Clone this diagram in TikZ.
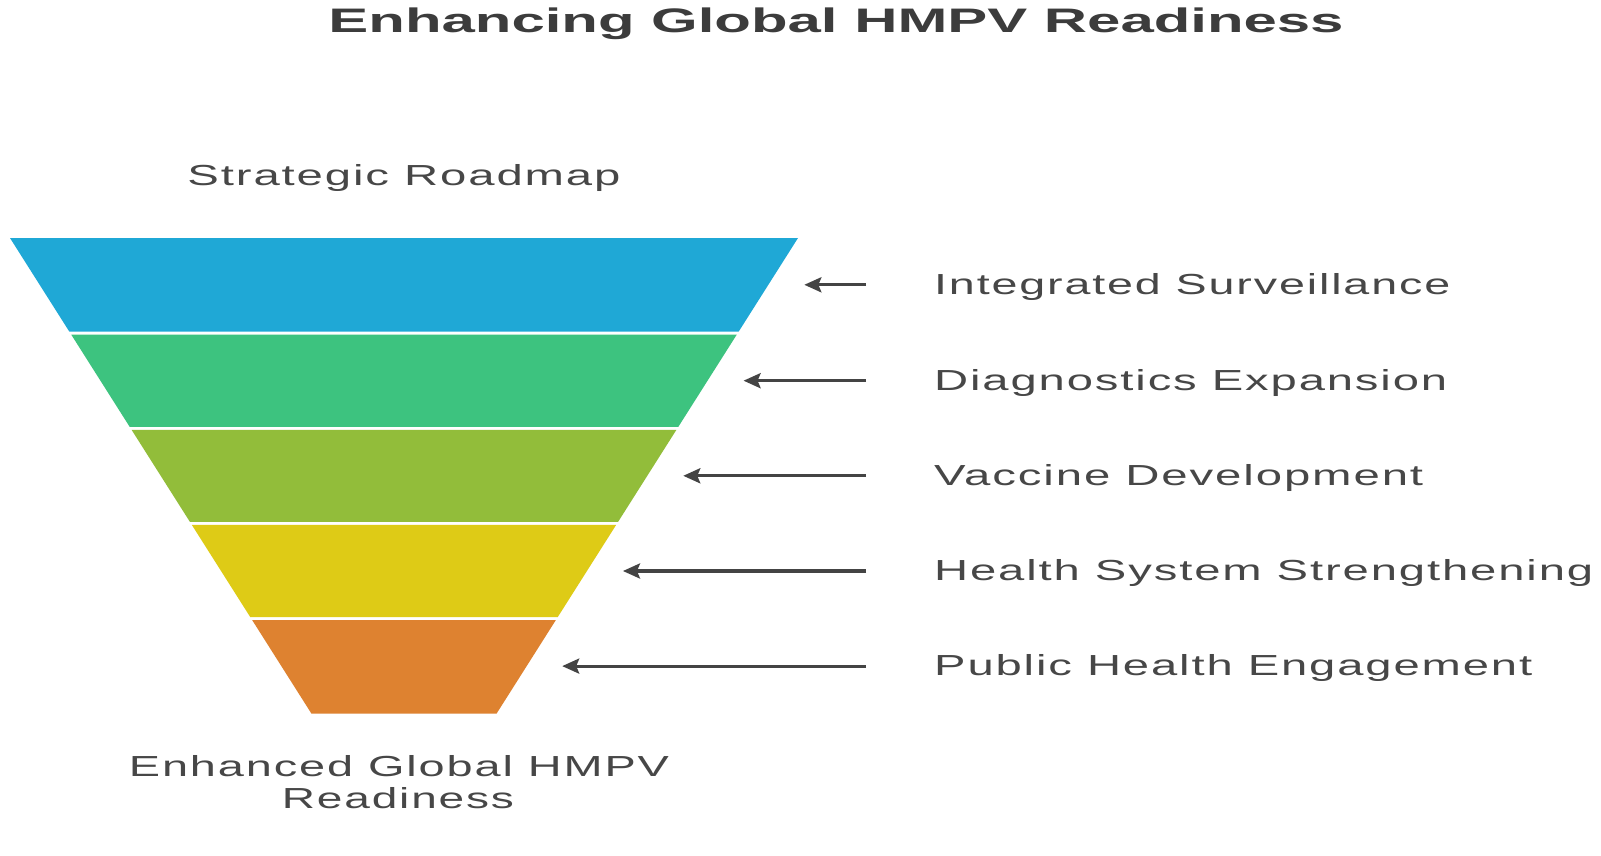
\documentclass[tikz,border=0pt]{standalone}
\usepackage{fontspec}
\setmainfont{Liberation Sans}
\newfontfamily\labfont[LetterSpace=4]{Liberation Sans}
\usetikzlibrary{arrows.meta}
\definecolor{txt}{HTML}{474747}
\definecolor{ttl}{HTML}{3C3C3C}
\definecolor{cA}{HTML}{1FA8D6}
\definecolor{cB}{HTML}{3DC37F}
\definecolor{cC}{HTML}{92BD3A}
\definecolor{cD}{HTML}{DECB16}
\definecolor{cE}{HTML}{DE8230}
\definecolor{arr}{HTML}{444444}
\newcommand\fitw[2]{\resizebox{#1pt}{\height}{#2}}
\newcommand\funlayer[4]{% top y, bottom y, colour, name
  \fill[#3] ({404-(394-0.6338*(#1-238))},#1) -- ({404+(394-0.6338*(#1-238))},#1)
     -- ({404+(394-0.6338*(#2-238))},#2) -- ({404-(394-0.6338*(#2-238))},#2) -- cycle;
  \coordinate (#4) at ({404+(394-0.6338*((#1+#2)/2-238))+36},{(#1+#2)/2});
}
\tikzset{
  lab/.style={anchor=base west, inner sep=0pt, text=txt, font=\labfont\fontsize{29}{33}\selectfont},
  captext/.style={anchor=base, inner sep=0pt, text=txt, font=\labfont\fontsize{29}{33}\selectfont},
  pointer/.style={draw=arr, line width=3.2pt, -{Stealth[length=17pt,width=15pt,inset=3pt]}}
}
\begin{document}
\begin{tikzpicture}[x=1pt,y=-1pt]
\useasboundingbox[fill=white] (0,0) rectangle (1601,856);
% title
\node[anchor=base, inner sep=0pt, text=ttl, font=\bfseries\fontsize{34}{40}\selectfont] (title) at (836,32.7) {\fitw{1015}{Enhancing Global HMPV Readiness}};
\node[captext] (top) at (404,185) {\fitw{433}{Strategic Roadmap}};
% funnel layers (gap 3px)
\funlayer{238}{331.64}{cA}{t1}
\funlayer{334.64}{426.78}{cB}{t2}
\funlayer{429.78}{521.92}{cC}{t3}
\funlayer{524.92}{617.06}{cD}{t4}
\funlayer{620.06}{713.7}{cE}{t5}
% labels
\node[lab] (l1) at (934,294.3) {\fitw{516}{Integrated Surveillance}};
\node[lab] (l2) at (934,390.2) {\fitw{513}{Diagnostics Expansion}};
\node[lab] (l3) at (934,485.3) {\fitw{489}{Vaccine Development}};
\node[lab] (l4) at (934,580.5) {\fitw{659}{Health System Strengthening}};
\node[lab] (l5) at (934,675.6) {\fitw{598}{Public Health Engagement}};
% arrow starts
\coordinate (s1) at (866,284.8);
\coordinate (s2) at (866,380.7);
\coordinate (s3) at (866,475.8);
\coordinate (s4) at (866,571.0);
\coordinate (s5) at (866,666.1);
\draw[pointer] (s1) -- (t1 |- s1);
\draw[pointer] (s2) -- (t2 |- s2);
\draw[pointer] (s3) -- (t3 |- s3);
\draw[pointer] (s4) -- (t4 |- s4);
\draw[pointer] (s5) -- (t5 |- s5);
% bottom caption
\node[captext] (b1) at (399,776) {\fitw{540}{Enhanced Global HMPV}};
\node[captext] (b2) at (398,808.7) {\fitw{232}{Readiness}};
\end{tikzpicture}
\end{document}
